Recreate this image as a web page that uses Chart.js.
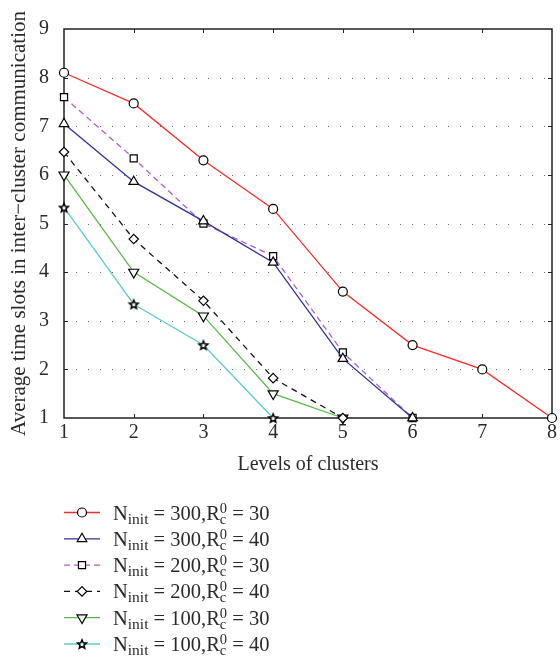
<!DOCTYPE html>
<html>
<head>
<meta charset="utf-8">
<script src="https://cdn.jsdelivr.net/npm/chart.js@4.4.1/dist/chart.umd.min.js"></script>
<style>
  html, body { margin: 0; padding: 0; background: #fff; }
</style>
</head>
<body>
<canvas id="myChart" width="560" height="656"></canvas>
<script>
Chart.defaults.font.family = "'Liberation Serif', 'DejaVu Serif', serif";
Chart.defaults.color = "#2a2a2a";

// levels on the x axis and the six runs
const levels = [1, 2, 3, 4, 5, 6, 7, 8];
const n300r30 = [8.1, 7.47, 6.3, 5.3, 3.6, 2.5, 2.0, 1.0];
const n300r40 = [7.05, 5.86, 5.05, 4.2, 2.22, 1.0];
const n200r30 = [7.6, 6.34, 5.0, 4.33, 2.35, 1.0];
const n200r40 = [6.47, 4.68, 3.41, 1.82, 1.0];
const n100r30 = [6.0, 4.0, 3.1, 1.5, 1.0];
const n100r40 = [5.33, 3.34, 2.5, 1.0];

const nInit = ['300', '300', '200', '200', '100', '100'];
const rC = ['30', '40', '30', '40', '30', '40'];
const lineColors = ['#f52c2c', '#2f2f95', '#b45cc6', '#111111', '#58b846', '#5ecaca'];
const lineDashes = [[], [], [6, 4], [6, 5], [], []];
const markers = ['circle', 'triangle', 'rect', 'rectRot', 'triangle', 'star'];
const markerSizes = [4.5, 5.5, 5, 4.7, 5.8, 5];
const markerRotations = [0, 0, 0, 0, 180, 0];

const yMin = 1, yMax = 9, xMin = 1, xMax = 8;

// five-pointed outline star, used as a point image
function makeStar(r) {
  let c = document.createElement('canvas');
  let size = Math.ceil(r * 2 + 4);
  c.width = size;
  c.height = size;
  let ctx = c.getContext('2d');
  let cx = size / 2, cy = size / 2 + 0.5;
  ctx.beginPath();
  for (let k = 0; k < 10; k++) {
    let rad = k % 2 === 0 ? r : r * 0.45;
    let a = -Math.PI / 2 + k * Math.PI / 5;
    ctx.lineTo(cx + rad * Math.cos(a), cy + rad * Math.sin(a));
  }
  ctx.closePath();
  ctx.fillStyle = '#fff';
  ctx.fill();
  ctx.strokeStyle = '#000';
  ctx.lineWidth = 1.5;
  ctx.stroke();
  return c;
}
const starImg = makeStar(4.6);

function toPoints(values) {
  return values.map((v, i) => ({ x: levels[i], y: v }));
}

const seriesValues = [n300r30, n300r40, n200r30, n200r40, n100r30, n100r40];

let datasets = [];
for (let i = 0; i < seriesValues.length; i++) {
  datasets.push({
    label: 'N_init = ' + nInit[i] + ', R_c^0 = ' + rC[i],
    data: toPoints(seriesValues[i]),
    borderColor: lineColors[i],
    borderWidth: 1.3,
    borderDash: lineDashes[i],
    pointStyle: markers[i] === 'star' ? starImg : markers[i],
    pointRadius: markerSizes[i],
    pointRotation: markerRotations[i],
    pointBackgroundColor: '#fff',
    pointBorderColor: '#000',
    pointBorderWidth: 1.2,
    tension: 0,
    fill: false,
    clip: false
  });
}

// dotted grid, box frame and inward tick marks
const framePlugin = {
  id: 'frame',
  beforeDatasetsDraw(chart) {
    let ctx = chart.ctx;
    let area = chart.chartArea;
    let xs = chart.scales.x, ys = chart.scales.y;
    ctx.save();
    ctx.strokeStyle = '#6a6a6a';
    ctx.lineWidth = 1;
    ctx.setLineDash([1, 11]);
    for (let v = yMin + 1; v < yMax; v++) {
      let y = Math.round(ys.getPixelForValue(v)) + 0.5;
      ctx.beginPath();
      ctx.moveTo(area.left + 12, y);
      ctx.lineTo(area.right, y);
      ctx.stroke();
    }
    ctx.setLineDash([]);
    ctx.strokeStyle = '#222';
    ctx.lineWidth = 1.5;
    ctx.strokeRect(area.left, area.top, area.right - area.left, area.bottom - area.top);
    ctx.lineWidth = 1;
    for (let v = xMin + 1; v < xMax; v++) {
      let x = Math.round(xs.getPixelForValue(v)) + 0.5;
      ctx.beginPath();
      ctx.moveTo(x, area.top);
      ctx.lineTo(x, area.top + 4);
      ctx.moveTo(x, area.bottom);
      ctx.lineTo(x, area.bottom - 4);
      ctx.stroke();
    }
    for (let v = yMin + 1; v < yMax; v++) {
      let y = Math.round(ys.getPixelForValue(v)) + 0.5;
      ctx.beginPath();
      ctx.moveTo(area.right, y);
      ctx.lineTo(area.right - 4, y);
      ctx.moveTo(area.left, y);
      ctx.lineTo(area.left + 4, y);
      ctx.stroke();
    }
    ctx.restore();
  }
};

// legend under the plot, with sub- and superscripts
const serif = "'Liberation Serif', 'DejaVu Serif', serif";
function drawRuns(ctx, x, y, runs) {
  for (let run of runs) {
    ctx.font = run.size + 'px ' + serif;
    if (run.stack) {
      let w = 0;
      for (let part of run.stack) {
        ctx.font = part.size + 'px ' + serif;
        ctx.fillText(part.text, x, y + part.dy);
        w = Math.max(w, ctx.measureText(part.text).width);
      }
      x += w;
    } else {
      ctx.fillText(run.text, x, y + (run.dy || 0));
      x += ctx.measureText(run.text).width;
    }
  }
}

const legendPlugin = {
  id: 'subLegend',
  afterDraw(chart) {
    let ctx = chart.ctx;
    let drawPoint = Chart.helpers && Chart.helpers.drawPoint;
    chart.data.datasets.forEach((ds, i) => {
      let cy = 512.5 + i * 26.3;
      ctx.save();
      ctx.strokeStyle = ds.borderColor;
      ctx.lineWidth = ds.borderWidth;
      ctx.setLineDash(ds.borderDash);
      ctx.beginPath();
      ctx.moveTo(64, cy);
      ctx.lineTo(100, cy);
      ctx.stroke();
      ctx.setLineDash([]);
      ctx.fillStyle = '#fff';
      ctx.strokeStyle = '#000';
      ctx.lineWidth = ds.pointBorderWidth;
      if (drawPoint) {
        drawPoint(ctx, { pointStyle: ds.pointStyle, radius: ds.pointRadius, rotation: ds.pointRotation, borderWidth: ds.pointBorderWidth }, 82, cy);
      }
      ctx.fillStyle = '#2a2a2a';
      ctx.textBaseline = 'alphabetic';
      drawRuns(ctx, 113, cy + 7, [
        { text: 'N', size: 20.5 },
        { text: 'init', size: 15.5, dy: 4 },
        { text: ' = ' + nInit[i] + ',R', size: 20.5 },
        { stack: [{ text: '0', size: 14.5, dy: -7 }, { text: 'c', size: 14.5, dy: 4 }] },
        { text: ' = ' + rC[i], size: 20.5 }
      ]);
      ctx.restore();
    });
  }
};

new Chart('myChart', {
  type: 'line',
  data: { datasets: datasets },
  plugins: [framePlugin, legendPlugin],
  options: {
    responsive: false,
    animation: false,
    devicePixelRatio: 1,
    layout: { padding: { top: 29, right: 4, bottom: 173, left: 0 } },
    plugins: {
      legend: { display: false },
      tooltip: { enabled: false }
    },
    scales: {
      x: {
        type: 'linear',
        min: xMin,
        max: xMax,
        afterFit: (s) => { s.height = 65; },
        ticks: { stepSize: 1, padding: 3, font: { size: 20 } },
        grid: { display: false, drawTicks: false },
        border: { display: false },
        title: {
          display: true,
          text: 'Levels of clusters',
          font: { size: 20 },
          padding: { top: 0, bottom: 6 }
        }
      },
      y: {
        type: 'linear',
        min: yMin,
        max: yMax,
        afterFit: (s) => { s.width = 64; },
        ticks: { stepSize: 1, padding: 15, font: { size: 20 } },
        grid: { display: false, drawTicks: false },
        border: { display: false },
        title: {
          display: true,
          text: 'Average time slots in inter\u2212cluster communication',
          font: { size: 21 },
          padding: { top: 7, bottom: 0 }
        }
      }
    }
  }
});
</script>
</body>
</html>
